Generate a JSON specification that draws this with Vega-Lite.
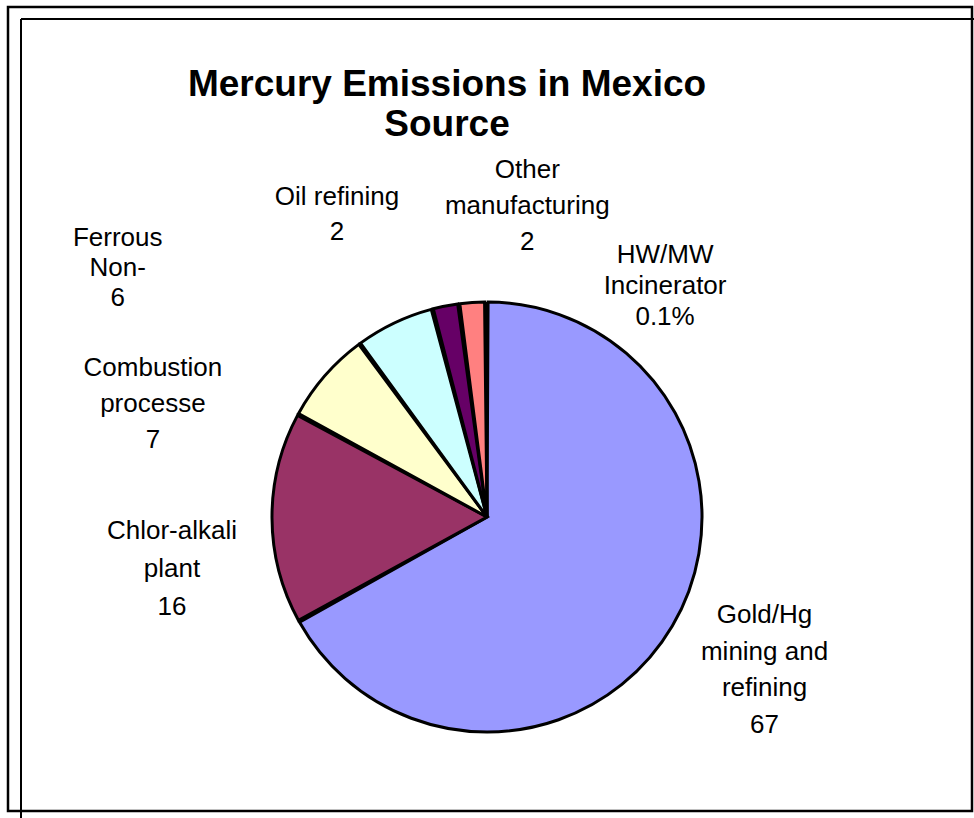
{
  "$schema": "https://vega.github.io/schema/vega-lite/v6.json",
  "width": 974,
  "height": 602,
  "autosize": {"type": "none"},
  "padding": {"left": 0, "top": 216, "right": 0, "bottom": 0},
  "background": "white",
  "config": {"view": {"stroke": null}, "font": "Liberation Sans"},
  "title": {
    "text": ["Mercury Emissions in Mexico", "Source"],
    "fontSize": 37,
    "fontWeight": "bold",
    "font": "Liberation Sans",
    "color": "black",
    "lineHeight": 40,
    "anchor": "middle",
    "frame": "group",
    "offset": -138,
    "dx": -40
  },
  "data": {
    "values": [
      {"order": 1, "source": "Gold/Hg mining and refining", "value": 67, "label": "Gold/Hg\nmining and\nrefining\n67"},
      {"order": 2, "source": "Chlor-alkali plant", "value": 16, "label": "Chlor-alkali\nplant\n16"},
      {"order": 3, "source": "Combustion processes", "value": 7, "label": "Combustion\nprocesse\n7"},
      {"order": 4, "source": "Non-Ferrous", "value": 6, "label": "Ferrous\nNon-\n6"},
      {"order": 5, "source": "Oil refining", "value": 2, "label": "Oil refining\n2"},
      {"order": 6, "source": "Other manufacturing", "value": 2, "label": "Other\nmanufacturing\n2"},
      {"order": 7, "source": "HW/MW Incinerator", "value": 0.1, "label": "HW/MW\nIncinerator\n0.1%"}
    ]
  },
  "transform": [
    {"window": [{"op": "sum", "field": "value", "as": "cum"}], "sort": [{"field": "order"}]},
    {"calculate": "datum.cum - datum.value", "as": "start"},
    {"calculate": "datum.cum - datum.value / 2", "as": "mid"}
  ],
  "layer": [
    {
      "data": {"values": [{}]},
      "mark": {"type": "rect", "fillOpacity": 0, "stroke": "black", "strokeWidth": 2.5},
      "encoding": {"x": {"value": 8}, "x2": {"value": 972}, "y": {"value": -209}, "y2": {"value": 595}}
    },
    {
      "data": {"values": [{}]},
      "mark": {"type": "rule", "stroke": "black", "strokeWidth": 2},
      "encoding": {"x": {"value": 21}, "y": {"value": -197}, "y2": {"value": 602}}
    },
    {
      "data": {"values": [{}]},
      "mark": {"type": "rule", "stroke": "black", "strokeWidth": 2},
      "encoding": {"x": {"value": 21}, "x2": {"value": 974}, "y": {"value": -197}}
    },
    {
      "mark": {"type": "arc", "outerRadius": 215, "stroke": "black", "strokeWidth": 3, "padAngle": 0.01, "strokeJoin": "miter"},
      "encoding": {
        "theta": {"field": "start", "type": "quantitative", "scale": {"domain": [0, 100.1]}},
        "theta2": {"field": "cum"},
        "color": {
          "field": "source",
          "type": "nominal",
          "scale": {
            "domain": ["Gold/Hg mining and refining", "Chlor-alkali plant", "Combustion processes", "Non-Ferrous", "Oil refining", "Other manufacturing", "HW/MW Incinerator"],
            "range": ["#9999FF", "#993366", "#FFFFCC", "#CCFFFF", "#660066", "#FF8080", "#0066CC"]
          },
          "legend": null
        }
      }
    },
    {
      "transform": [{"filter": "datum.order == 1"}],
      "mark": {"type": "text", "radius": 300, "dx": 19, "dy": -54, "lineBreak": "\n", "lineHeight": 36.5, "fontSize": 26, "align": "center", "baseline": "middle", "color": "black"},
      "encoding": {"theta": {"field": "mid", "type": "quantitative"}, "text": {"field": "label"}}
    },
    {
      "transform": [{"filter": "datum.order == 2"}],
      "mark": {"type": "text", "radius": 300, "dx": -15, "dy": 13, "lineBreak": "\n", "lineHeight": 38, "fontSize": 26, "align": "center", "baseline": "middle", "color": "black"},
      "encoding": {"theta": {"field": "mid", "type": "quantitative"}, "text": {"field": "label"}}
    },
    {
      "transform": [{"filter": "datum.order == 3"}],
      "mark": {"type": "text", "radius": 300, "dx": -108, "dy": 48, "lineBreak": "\n", "lineHeight": 36, "fontSize": 26, "align": "center", "baseline": "middle", "color": "black"},
      "encoding": {"theta": {"field": "mid", "type": "quantitative"}, "text": {"field": "label"}}
    },
    {
      "transform": [{"filter": "datum.order == 4"}],
      "mark": {"type": "text", "radius": 300, "dx": -240, "dy": -8, "lineBreak": "\n", "lineHeight": 30, "fontSize": 26, "align": "center", "baseline": "middle", "color": "black"},
      "encoding": {"theta": {"field": "mid", "type": "quantitative"}, "text": {"field": "label"}}
    },
    {
      "transform": [{"filter": "datum.order == 5"}],
      "mark": {"type": "text", "radius": 300, "dx": -92, "dy": -26, "lineBreak": "\n", "lineHeight": 35, "fontSize": 26, "align": "center", "baseline": "middle", "color": "black"},
      "encoding": {"theta": {"field": "mid", "type": "quantitative"}, "text": {"field": "label"}}
    },
    {
      "transform": [{"filter": "datum.order == 6"}],
      "mark": {"type": "text", "radius": 300, "dx": 61, "dy": -48, "lineBreak": "\n", "lineHeight": 36, "fontSize": 26, "align": "center", "baseline": "middle", "color": "black"},
      "encoding": {"theta": {"field": "mid", "type": "quantitative"}, "text": {"field": "label"}}
    },
    {
      "transform": [{"filter": "datum.order == 7"}],
      "mark": {"type": "text", "radius": 300, "dx": 179, "dy": 38, "lineBreak": "\n", "lineHeight": 31, "fontSize": 26, "align": "center", "baseline": "middle", "color": "black"},
      "encoding": {"theta": {"field": "mid", "type": "quantitative"}, "text": {"field": "label"}}
    }
  ]
}
